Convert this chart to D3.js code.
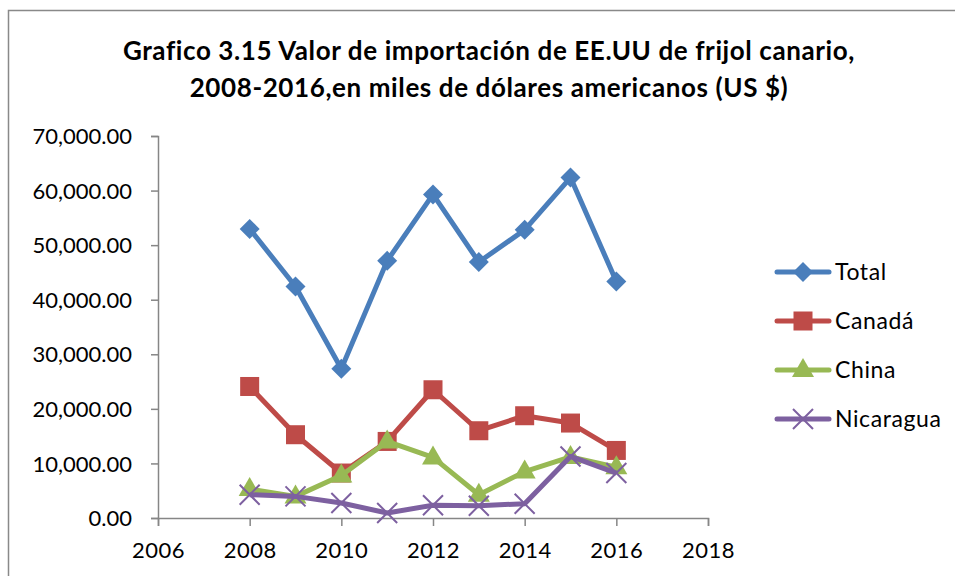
<!DOCTYPE html>
<html>
<head>
<meta charset="utf-8">
<script src="https://cdn.jsdelivr.net/npm/d3@7"></script>
<style>
  body { margin: 0; background: #fff; }
  svg text { font-family: Lato, "Open Sans", sans-serif; fill: #000; }
</style>
</head>
<body>
<div id="chart"></div>
<script>
const years = [2008, 2009, 2010, 2011, 2012, 2013, 2014, 2015, 2016];
const total = [52980, 42420, 27350, 47120, 59300, 46900, 52800, 62380, 43330];
const canada = [24100, 15260, 8240, 14030, 23500, 15990, 18740, 17400, 12380];
const china = [5300, 3960, 7800, 14030, 11100, 4270, 8500, 11200, 9300];
const nicaragua = [4270, 3960, 2750, 920, 2350, 2250, 2620, 11280, 8240];
const seriesNames = ["Total", "Canadá", "China", "Nicaragua"];
const xTicks = [2006, 2008, 2010, 2012, 2014, 2016, 2018];
const yTicks = [0, 10000, 20000, 30000, 40000, 50000, 60000, 70000];

const width = 955, height = 576;
const colors = ["#4a7ebb", "#be4b48", "#98b954", "#7d60a0"];
const symbols = ["diamond", "square", "triangle", "cross"];

const svg = d3.select("#chart").append("svg")
  .attr("width", width).attr("height", height);

// outer frame
svg.append("rect")
  .attr("x", 8.5).attr("y", 10.5)
  .attr("width", 960).attr("height", 600)
  .attr("fill", "none").attr("stroke", "#898989").attr("stroke-width", 1.5);

// title
const title = svg.append("text")
  .attr("text-anchor", "middle")
  .attr("font-weight", "bold")
  .attr("font-size", 26)
  .attr("letter-spacing", 0.6);
title.append("tspan").attr("x", 489).attr("y", 60)
  .text("Grafico 3.15 Valor de importación de EE.UU de frijol canario,");
title.append("tspan").attr("x", 489).attr("y", 97)
  .text("2008-2016,en miles de dólares americanos (US $)");

const x = d3.scaleLinear().domain([2006, 2018]).range([158, 708]);
const y = d3.scaleLinear().domain([0, 70000]).range([518, 136]);

const fmt = d3.format(",.2f");

svg.append("g")
  .attr("transform", "translate(158,0)")
  .call(d3.axisLeft(y).tickValues(yTicks).tickFormat(fmt).tickSize(7).tickPadding(19))
  .call(g => g.selectAll("text").attr("font-size", 22).attr("dy", "0.35em"))
  .call(g => g.selectAll("line,path").attr("stroke", "#868686").attr("stroke-width", 1.5));

svg.append("g")
  .attr("transform", "translate(0,518)")
  .call(d3.axisBottom(x).tickValues(xTicks).tickFormat(d3.format("d")).tickSize(8).tickPadding(16))
  .call(g => g.selectAll("text").attr("font-size", 22).attr("letter-spacing", 0.5))
  .call(g => g.selectAll("line,path").attr("stroke", "#868686").attr("stroke-width", 1.5));

const data = [total, canada, china, nicaragua];

const line = d3.line().x((d, i) => x(years[i])).y(d => y(d));

function marker(g, type, color, cx, cy) {
  if (type === "diamond") {
    g.append("path").attr("d", `M${cx},${cy - 10}L${cx + 10},${cy}L${cx},${cy + 10}L${cx - 10},${cy}Z`)
      .attr("fill", color);
  } else if (type === "square") {
    g.append("rect").attr("x", cx - 9.5).attr("y", cy - 9.5).attr("width", 19).attr("height", 19)
      .attr("fill", color);
  } else if (type === "triangle") {
    g.append("path").attr("d", `M${cx},${cy - 12}L${cx + 11},${cy + 7}L${cx - 11},${cy + 7}Z`)
      .attr("fill", color);
  } else {
    g.append("path").attr("d", `M${cx - 10},${cy - 10}L${cx + 10},${cy + 10}M${cx + 10},${cy - 10}L${cx - 10},${cy + 10}`)
      .attr("stroke", color).attr("stroke-width", 2);
  }
}

data.forEach((vals, s) => {
  const g = svg.append("g");
  g.append("path").datum(vals)
    .attr("d", line)
    .attr("fill", "none")
    .attr("stroke", colors[s])
    .attr("stroke-width", 5)
    .attr("stroke-linejoin", "round");
  vals.forEach((v, i) => marker(g, symbols[s], colors[s], x(years[i]), y(v)));
});

// legend
seriesNames.forEach((name, s) => {
  const ly = 272 + s * 49;
  const g = svg.append("g");
  g.append("line").attr("x1", 777).attr("x2", 829).attr("y1", ly).attr("y2", ly)
    .attr("stroke", colors[s]).attr("stroke-width", 5).attr("stroke-linecap", "round");
  marker(g, symbols[s], colors[s], 803, ly);
  g.append("text").attr("x", 835).attr("y", ly).attr("dy", "0.35em")
    .attr("font-size", 23).attr("letter-spacing", 0.6).text(name);
});
</script>
</body>
</html>
